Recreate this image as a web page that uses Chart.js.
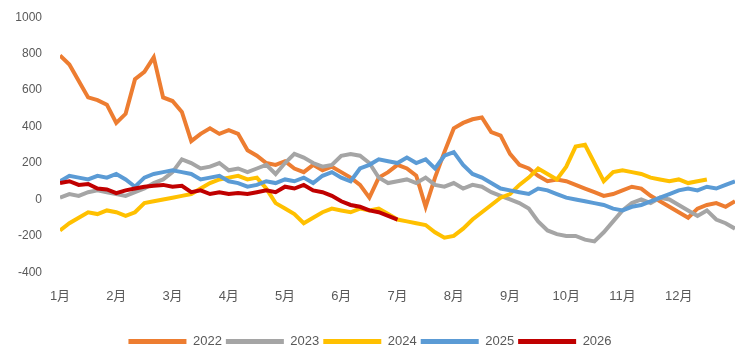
<!DOCTYPE html>
<html>
<head>
<meta charset="utf-8">
<script src="https://cdn.jsdelivr.net/npm/chart.js@4"></script>
<style>
    html, body { margin: 0; padding: 0; background: #fff; }
    #wrap { width: 743px; height: 351px; }
</style>
</head>
<body>
<div id="wrap"><canvas id="spreadChart"></canvas></div>
<script>
// one sample every 1/6 month (about 5 days), x in months from 1月
const monthLabels = ['1月', '2月', '3月', '4月', '5月', '6月', '7月', '8月', '9月', '10月', '11月', '12月'];
const yTicks = [-400, -200, 0, 200, 400, 600, 800, 1000];

const s2022 = [790, 740, 650, 560, 545, 520, 420, 470, 660, 700, 780, 560, 540, 480, 320, 360, 390, 360, 380, 360,
    270, 240, 200, 190, 210, 170, 150, 190, 160, 180, 150, 120, 80, 10, 120, 150, 190, 170, 130, -40,
    120, 260, 390, 420, 440, 450, 370, 350, 250, 190, 170, 130, 100, 110, 100, 80, 60, 40, 20, 30,
    50, 70, 60, 20, -10, -40, -70, -100, -50, -30, -20, -40, -10];
const s2023 = [10, 30, 20, 40, 50, 40, 30, 20, 40, 60, 90, 110, 150, 220, 200, 170, 180, 200, 160, 170,
    150, 170, 190, 140, 200, 250, 230, 200, 180, 190, 240, 250, 240, 200, 120, 90, 100, 110, 90, 120,
    80, 70, 90, 60, 80, 70, 40, 20, 0, -20, -50, -120, -170, -190, -200, -200, -220, -230, -180, -120,
    -60, -20, 0, -20, 10, 0, -30, -60, -90, -60, -110, -130, -160];
const s2024 = [-170, -130, -100, -70, -80, -60, -70, -90, -70, -20, -10, 0, 10, 20, 30, 60, 90, 110, 120, 130,
    110, 120, 60, -20, -50, -80, -130, -100, -70, -50, -60, -70, -50, -60, -50, -80, -110, -120, -130, -140,
    -180, -210, -200, -160, -110, -70, -30, 10, 30, 80, 120, 170, 140, 110, 180, 290, 300, 200, 100, 150,
    160, 150, 140, 120, 110, 100, 110, 90, 100, 110];
const s2025 = [100, 130, 120, 110, 130, 120, 140, 110, 70, 120, 140, 150, 160, 150, 140, 110, 120, 130, 100, 90,
    70, 80, 100, 90, 110, 100, 120, 90, 130, 150, 120, 100, 170, 190, 220, 210, 200, 230, 200, 220,
    170, 240, 260, 190, 140, 120, 90, 60, 50, 40, 30, 60, 50, 30, 10, 0, -10, -20, -30, -50,
    -60, -40, -30, -10, 10, 30, 50, 60, 50, 70, 60, 80, 100];
const s2026 = [90, 100, 80, 85, 60, 55, 35, 50, 60, 70, 75, 80, 70, 75, 40, 50, 30, 40, 30, 35,
    30, 40, 50, 40, 70, 60, 80, 50, 40, 20, -10, -30, -40, -60, -70, -90, -110];

const seriesNames = ['2022', '2023', '2024', '2025', '2026'];
const seriesColors = ['#ED7D31', '#A5A5A5', '#FFC000', '#5B9BD5', '#C00000'];
const seriesValues = [s2022, s2023, s2024, s2025, s2026];

function toPoints(values) {
    return values.map((v, i) => ({ x: i / 6, y: v }));
}

const datasets = seriesNames.map((name, i) => ({
    label: name,
    data: toPoints(seriesValues[i]),
    borderColor: seriesColors[i],
    backgroundColor: seriesColors[i],
    borderWidth: 4,
    pointRadius: 0,
    tension: 0,
    order: seriesNames.length - i
}));

const fontFamily = "'Liberation Sans', 'Noto Sans CJK SC', sans-serif";

new Chart(document.getElementById('spreadChart'), {
    type: 'line',
    data: { datasets: datasets },
    options: {
        responsive: true,
        maintainAspectRatio: false,
        animation: false,
        // negative bottom padding pulls the legend down to the canvas edge
        layout: { padding: { top: 14, right: 3, left: 0, bottom: -7 } },
        plugins: {
            tooltip: { enabled: false },
            legend: {
                position: 'bottom',
                // empty title just adds space between the month labels and the legend
                title: { display: true, text: '', font: { size: 10 }, padding: { top: 0, bottom: 7 } },
                labels: {
                    color: '#595959',
                    font: { family: fontFamily, size: 13 },
                    boxWidth: 58,
                    boxHeight: 5,
                    padding: 4,
                    generateLabels: (chart) => {
                        const items = Chart.defaults.plugins.legend.labels.generateLabels(chart);
                        return items.sort((a, b) => a.datasetIndex - b.datasetIndex)
                            .map(it => Object.assign(it, { lineWidth: 0 }));
                    }
                }
            }
        },
        scales: {
            x: {
                type: 'linear',
                min: 0,
                max: 12,
                grid: { display: false },
                border: { display: false },
                ticks: {
                    stepSize: 1,
                    autoSkip: false,
                    maxRotation: 0,
                    padding: 8,
                    color: '#595959',
                    font: { family: fontFamily, size: 13 },
                    callback: (value) => monthLabels[value] || ''
                }
            },
            y: {
                min: yTicks[0],
                max: yTicks[yTicks.length - 1],
                grid: { display: false },
                border: { display: false },
                afterFit: (scale) => { scale.width = 60; },
                afterBuildTicks: (scale) => { scale.ticks = yTicks.map(v => ({ value: v })); },
                ticks: {
                    padding: 10,
                    color: '#595959',
                    font: { family: fontFamily, size: 12 },
                    callback: (value) => String(value)
                }
            }
        }
    }
});
</script>
</body>
</html>
